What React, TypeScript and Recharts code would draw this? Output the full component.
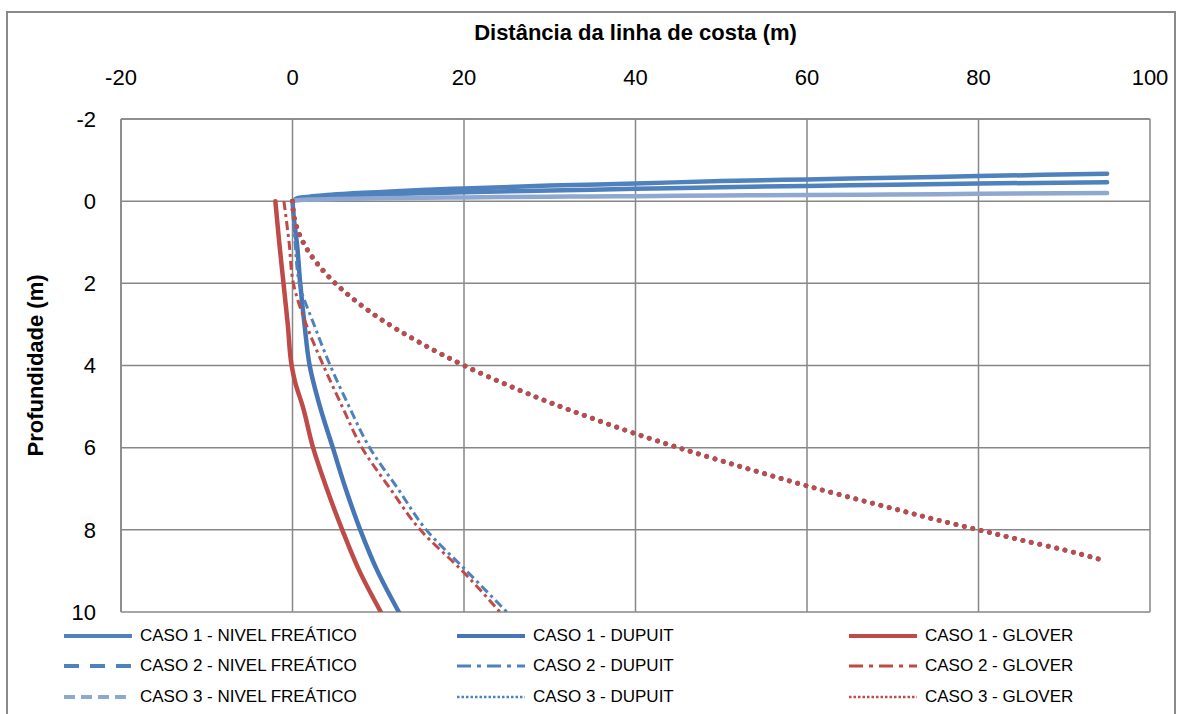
import React from 'react'
import { LineChart, Line, XAxis, YAxis, CartesianGrid, Label } from 'recharts'

// pontos: [distância (m), profundidade (m)]
type Pair = [number, number]

const xTicks = [-20, 0, 20, 40, 60, 80, 100]
const yTicks = [-2, 0, 2, 4, 6, 8, 10]

const nivel1: Pair[] = [
  [0, 0], [0.5, -0.07], [1, -0.09], [2, -0.11], [4, -0.15], [7, -0.19], [10, -0.22], [15, -0.27],
  [20, -0.31], [30, -0.38], [40, -0.43], [50, -0.49], [60, -0.53], [70, -0.57], [80, -0.61], [95, -0.67],
]
const nivel2: Pair[] = [
  [0, 0], [0.5, -0.04], [1, -0.06], [2, -0.08], [4, -0.11], [7, -0.14], [10, -0.16], [15, -0.19],
  [20, -0.22], [30, -0.26], [40, -0.3], [50, -0.34], [60, -0.37], [70, -0.4], [80, -0.43], [95, -0.46],
]
const nivel3: Pair[] = [
  [0, 0], [0.5, -0.02], [1, -0.03], [2, -0.04], [5, -0.05], [10, -0.07], [20, -0.09], [30, -0.11],
  [40, -0.12], [50, -0.14], [60, -0.15], [70, -0.16], [80, -0.18], [95, -0.2],
]

const dupuit1: Pair[] = [
  [0, 0], [0.2, 0.5], [0.5, 1], [0.9, 2], [1.4, 3], [2.0, 4], [3.2, 5], [4.7, 6], [6.2, 7], [7.9, 8], [9.9, 9], [12.4, 10],
]
const dupuit2: Pair[] = [
  [0, 0], [0.3, 1], [0.8, 2], [2.5, 3], [4.4, 4], [6.6, 5], [9.0, 6], [12.3, 7], [15.6, 8], [20.3, 9], [25.0, 10],
]
const dupuit3: Pair[] = [
  [0, 0], [0.25, 0.45], [1, 0.9], [2, 1.27], [3, 1.55], [5, 2.0], [7.5, 2.45], [10, 2.83], [15, 3.46],
  [20, 4.0], [25, 4.47], [30, 4.9], [35, 5.29], [40, 5.66], [45, 6.0], [50, 6.32], [55, 6.63], [60, 6.93],
  [65, 7.21], [70, 7.48], [75, 7.75], [80, 8.0], [85, 8.25], [90, 8.49], [94, 8.71],
]

const glover1: Pair[] = [
  [-2, 0], [-1.55, 1], [-1.05, 2], [-0.55, 3], [-0.1, 4], [0.3, 4.4], [1.2, 5], [2.4, 6], [4.0, 7], [5.8, 8], [7.8, 9], [10.3, 10],
]
const glover2: Pair[] = [
  [-1, 0], [-0.4, 1], [0.1, 2], [1.6, 3], [3.6, 4], [5.8, 5], [8.1, 6], [11.4, 7], [14.9, 8], [19.8, 9], [24.2, 10],
]
const glover3: Pair[] = [
  [0, 0], [0.25, 0.45], [1, 0.9], [2, 1.27], [3, 1.55], [5, 2.0], [7.5, 2.45], [10, 2.83], [15, 3.46],
  [20, 4.0], [25, 4.47], [30, 4.9], [35, 5.29], [40, 5.66], [45, 6.0], [50, 6.32], [55, 6.63], [60, 6.93],
  [65, 7.21], [70, 7.48], [75, 7.75], [80, 8.0], [85, 8.25], [90, 8.49], [94, 8.71],
]

const BLUE = '#4F81BD'
const BLUE_DARK = '#4676B5'
const BLUE_LIGHT = '#8FA8D0'
const RED = '#BE4B48'
const GRID = '#878787'
const FONT = '"Liberation Sans", Arial, sans-serif'

type Serie = {
  name: string
  data: Pair[]
  color: string
  width: number
  curve: 'monotoneX' | 'monotoneY'
  dash?: string
  cap?: 'round' | 'butt'
  legendDash?: string
  legendWidth?: number
}

// ordem do Excel: linha a linha da legenda
const series: Serie[] = [
  { name: 'CASO 1 - NIVEL FREÁTICO', data: nivel1, color: BLUE, width: 4.5, curve: 'monotoneX' },
  { name: 'CASO 1 - DUPUIT', data: dupuit1, color: BLUE_DARK, width: 4.5, curve: 'monotoneY' },
  { name: 'CASO 1 - GLOVER', data: glover1, color: RED, width: 4.5, curve: 'monotoneY' },
  { name: 'CASO 2 - NIVEL FREÁTICO', data: nivel2, color: BLUE, width: 4.5, curve: 'monotoneX', legendDash: '15 11' },
  { name: 'CASO 2 - DUPUIT', data: dupuit2, color: BLUE, width: 3, curve: 'monotoneY', dash: '9 4 3 4', cap: 'butt', legendDash: '14 6 4 6', legendWidth: 3 },
  { name: 'CASO 2 - GLOVER', data: glover2, color: RED, width: 3, curve: 'monotoneY', dash: '9 4 3 4', cap: 'butt', legendDash: '14 6 4 6', legendWidth: 3 },
  { name: 'CASO 3 - NIVEL FREÁTICO', data: nivel3, color: BLUE_LIGHT, width: 4.5, curve: 'monotoneX', legendDash: '11 6' },
  { name: 'CASO 3 - DUPUIT', data: dupuit3, color: BLUE, width: 5, curve: 'monotoneY', dash: '0.01 8.6', cap: 'round', legendDash: '2.5 2', legendWidth: 2.5 },
  { name: 'CASO 3 - GLOVER', data: glover3, color: RED, width: 5, curve: 'monotoneY', dash: '0.01 8.6', cap: 'round', legendDash: '2.5 2', legendWidth: 2.5 },
]

const toPts = (arr: Pair[]) => arr.map(([x, y]) => ({ x, y }))

const legendCols = [64, 457, 849]
const legendRows = [636, 666, 697]

function XTitle(props: any) {
  const vb = props.viewBox || {}
  return (
    <text x={vb.x + vb.width / 2} y={vb.y + 40} textAnchor="middle"
      style={{ fontFamily: FONT, fontSize: 22, fontWeight: 700, fill: '#000' }}>
      Distância da linha de costa (m)
    </text>
  )
}

function YTitle(props: any) {
  const vb = props.viewBox || {}
  const cx = 35
  const cy = vb.y + vb.height / 2
  return (
    <text x={cx} y={cy} textAnchor="middle" dominantBaseline="central" transform={`rotate(-90, ${cx}, ${cy})`}
      style={{ fontFamily: FONT, fontSize: 22, fontWeight: 700, fill: '#000' }}>
      Profundidade (m)
    </text>
  )
}

export default function App() {
  const tick = { fill: '#000', fontSize: 22, fontFamily: FONT }
  return (
    <div style={{ position: 'fixed', left: 0, top: 0, width: 1183, height: 714, overflow: 'hidden', background: '#fff' }}>
      <div style={{ position: 'absolute', left: 0, top: 0 }}>
        <LineChart width={1183} height={714} margin={{ top: 0, right: 33, bottom: 102, left: 0 }}>
          <CartesianGrid stroke={GRID} strokeWidth={1.5} />
          <XAxis
            xAxisId={0} type="number" dataKey="x" orientation="top" height={119}
            domain={[-20, 100]} ticks={xTicks} allowDataOverflow
            tick={tick} tickLine={false} tickSize={0} tickMargin={34}
            axisLine={{ stroke: GRID, strokeWidth: 1.5 }}
          >
            <Label content={<XTitle />} />
          </XAxis>
          <YAxis
            yAxisId={0} type="number" dataKey="y" reversed width={121}
            domain={[-2, 10]} ticks={yTicks} allowDataOverflow
            tick={tick} tickLine={false} tickSize={0} tickMargin={25}
            axisLine={{ stroke: GRID, strokeWidth: 1.5 }}
          >
            <Label content={<YTitle />} />
          </YAxis>
          {series.map((s) => (
            <Line
              key={s.name} name={s.name} data={toPts(s.data)} dataKey="y" type={s.curve}
              stroke={s.color} strokeWidth={s.width} strokeDasharray={s.dash}
              strokeLinecap={s.cap ?? 'round'} strokeLinejoin="round"
              dot={false} activeDot={false} isAnimationActive={false}
            />
          ))}
        </LineChart>
      </div>
      {series.map((s, i) => {
        const left = legendCols[i % 3]
        const top = legendRows[Math.floor(i / 3)]
        return (
          <div key={s.name} style={{ position: 'absolute', left, top: top - 11, height: 22, display: 'flex', alignItems: 'center' }}>
            <svg width={68} height={10} style={{ display: 'block' }}>
              <line x1={0} y1={5} x2={68} y2={5} stroke={s.color}
                strokeWidth={s.legendWidth ?? 4} strokeDasharray={s.legendDash} />
            </svg>
            <span style={{ marginLeft: 8, fontFamily: FONT, fontSize: 17, color: '#000', whiteSpace: 'nowrap' }}>
              {s.name}
            </span>
          </div>
        )
      })}
      {/* moldura da área do gráfico */}
      <svg width={1183} height={714} style={{ position: 'absolute', left: 0, top: 0, zIndex: 2, pointerEvents: 'none' }}>
        <rect x={7} y={12} width={1168} height={720} fill="none" stroke="#8a8a8a" strokeWidth={2} />
      </svg>
    </div>
  )
}
